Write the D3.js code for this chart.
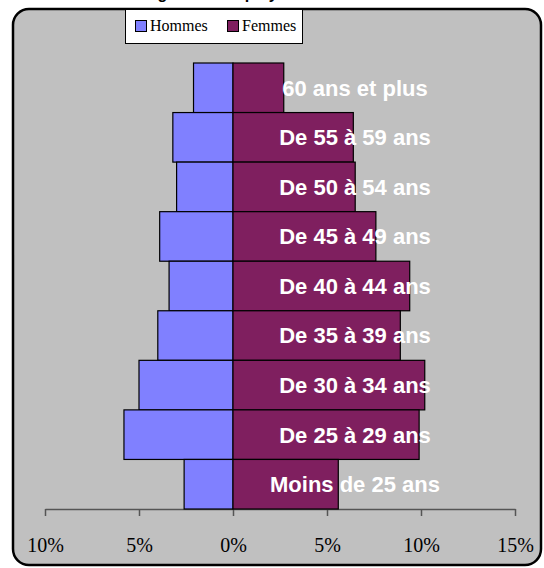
<!DOCTYPE html>
<html>
<head>
<meta charset="utf-8">
<script src="https://cdn.jsdelivr.net/npm/d3@7"></script>
<style>
  body { margin: 0; background: #fff; }
  svg { display: block; }
</style>
</head>
<body>
<div id="chart"></div>
<script>

// age groups, top to bottom
var ageGroups = ["60 ans et plus", "De 55 à 59 ans", "De 50 à 54 ans", "De 45 à 49 ans",
                 "De 40 à 44 ans", "De 35 à 39 ans", "De 30 à 34 ans", "De 25 à 29 ans",
                 "Moins de 25 ans"];

// share of staff in %
var hommes = [2.1, 3.2, 3.0, 3.9, 3.4, 4.0, 5.0, 5.8, 2.6];
var femmes = [2.7, 6.4, 6.5, 7.6, 9.4, 8.9, 10.2, 9.9, 5.6];

var tickValues = [-10, -5, 0, 5, 10, 15];
var seriesNames = ["Hommes", "Femmes"];

//====================================================================================

var width = 544, height = 568;
var colorH = "#8080ff", colorF = "#7f1f5f";

var svg = d3.select("#chart").append("svg")
    .attr("width", width)
    .attr("height", height);

// title, cut off at the top of the picture
svg.append("text")
    .attr("x", 146)
    .attr("y", -1.5)
    .style("font-family", "Liberation Sans, Arial, sans-serif")
    .style("font-weight", "bold")
    .style("font-size", "16px")
    .text("Âges des employés");

// chart area
svg.append("rect")
    .attr("x", 13)
    .attr("y", 9)
    .attr("width", 528)
    .attr("height", 556)
    .attr("rx", 16)
    .attr("ry", 16)
    .attr("fill", "#c0c0c0")
    .attr("stroke", "#000")
    .attr("stroke-width", 2.5);

var x = d3.scaleLinear().domain([-10, 15]).range([45, 515]);
var y = d3.scaleBand().domain(ageGroups).range([63, 509]).padding(0);

// axis
var axis = svg.append("g")
    .attr("transform", "translate(0," + 509 + ")")
    .call(d3.axisBottom(x)
        .tickValues(tickValues)
        .tickSize(7)
        .tickSizeOuter(0)
        .tickPadding(22)
        .tickFormat(function(d){ return Math.abs(d) + "%"; }));

axis.selectAll("path, line").attr("stroke", "#555").attr("stroke-width", 1.5);
axis.selectAll("text")
    .attr("fill", "#000")
    .style("font-family", "Liberation Serif, Times New Roman, serif")
    .style("font-size", "20px");

// bars
var rows = ageGroups.map(function(a, i){
    return {age: a, h: hommes[i], f: femmes[i]};
});

svg.selectAll("rect.hommes")
    .data(rows)
    .enter().append("rect")
    .attr("class", "hommes")
    .attr("x", function(d){ return x(-d.h); })
    .attr("y", function(d){ return y(d.age); })
    .attr("width", function(d){ return x(0) - x(-d.h); })
    .attr("height", y.bandwidth())
    .attr("fill", colorH)
    .attr("stroke", "#000")
    .attr("stroke-width", 1.2);

svg.selectAll("rect.femmes")
    .data(rows)
    .enter().append("rect")
    .attr("class", "femmes")
    .attr("x", x(0))
    .attr("y", function(d){ return y(d.age); })
    .attr("width", function(d){ return x(d.f) - x(0); })
    .attr("height", y.bandwidth())
    .attr("fill", colorF)
    .attr("stroke", "#000")
    .attr("stroke-width", 1.2);

// category labels
svg.selectAll("text.label")
    .data(rows)
    .enter().append("text")
    .attr("class", "label")
    .attr("x", 355)
    .attr("y", function(d){ return y(d.age) + y.bandwidth() / 2; })
    .attr("dy", "0.36em")
    .attr("text-anchor", "middle")
    .attr("fill", "#fff")
    .style("font-family", "Liberation Sans, Arial, sans-serif")
    .style("font-weight", "bold")
    .style("font-size", "22px")
    .text(function(d){ return d.age; });

// legend
var legend = svg.append("g");
legend.append("rect")
    .attr("x", 125.5)
    .attr("y", 9.5)
    .attr("width", 177)
    .attr("height", 34)
    .attr("fill", "#fff")
    .attr("stroke", "#000")
    .attr("stroke-width", 1);

var legendX = [135, 227];
seriesNames.forEach(function(name, i){
    legend.append("rect")
        .attr("x", legendX[i] + 0.5)
        .attr("y", 20.5)
        .attr("width", 11)
        .attr("height", 11)
        .attr("fill", i === 0 ? colorH : colorF)
        .attr("stroke", "#000")
        .attr("stroke-width", 1);
    legend.append("text")
        .attr("x", legendX[i] + 15)
        .attr("y", 31)
        .style("font-family", "Liberation Serif, Times New Roman, serif")
        .style("font-size", "16px")
        .text(name);
});

</script>
</body>
</html>
